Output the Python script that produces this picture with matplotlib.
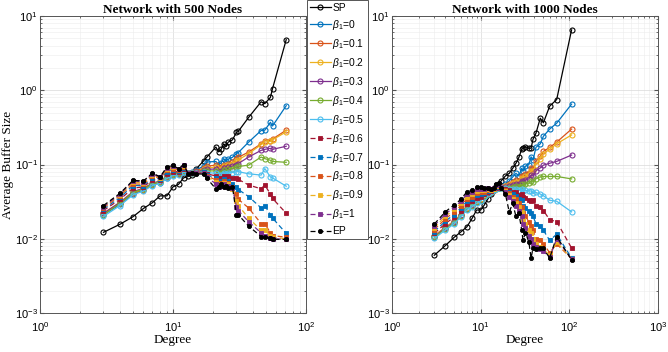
import numpy as np
import matplotlib
matplotlib.use('Agg')
import matplotlib.pyplot as plt

plt.rcParams['font.family'] = ['Liberation Sans', 'DejaVu Sans']
plt.rcParams['mathtext.fontset'] = 'custom'
plt.rcParams['mathtext.rm'] = 'Liberation Sans'
plt.rcParams['mathtext.it'] = 'Liberation Sans:italic'
plt.rcParams['axes.unicode_minus'] = False

# ---- network with 500 nodes ----
L_deg = [3, 4, 5, 6, 7, 8, 9, 10, 11, 12, 13, 14, 15, 17, 18, 21, 22, 23, 24, 25,
         26, 28, 30, 31, 37, 46, 49, 54, 56, 71]
L_sp = [0.0122, 0.0157, 0.0198, 0.0256, 0.0306, 0.0378, 0.0378, 0.050, 0.054, 0.066,
        0.069, 0.072, 0.088, 0.112, 0.126, 0.172, 0.148, 0.160, 0.190, 0.175,
        0.200, 0.215, 0.270, 0.280, 0.430, 0.700, 0.660, 0.800, 1.050, 4.800]
L_b00 = [0.021, 0.029, 0.040, 0.045, 0.053, 0.057, 0.066, 0.072, 0.074, 0.080,
         0.077, 0.079, 0.085, 0.095, 0.108, 0.110, 0.100, 0.105, 0.120, 0.112,
         0.118, 0.125, 0.140, 0.145, 0.200, 0.287, 0.290, 0.370, 0.330, 0.620]
L_b01 = [0.022, 0.030, 0.041, 0.046, 0.054, 0.058, 0.068, 0.074, 0.075, 0.081,
         0.077, 0.078, 0.082, 0.090, 0.095, 0.098, 0.090, 0.092, 0.100, 0.095,
         0.102, 0.108, 0.118, 0.125, 0.147, 0.190, 0.210, 0.210, 0.220, 0.290]
L_b02 = [0.022, 0.031, 0.042, 0.047, 0.055, 0.059, 0.069, 0.075, 0.076, 0.082,
         0.077, 0.078, 0.080, 0.088, 0.090, 0.092, 0.085, 0.088, 0.095, 0.090,
         0.098, 0.103, 0.110, 0.115, 0.140, 0.185, 0.200, 0.205, 0.215, 0.275]
L_b03 = [0.022, 0.031, 0.043, 0.048, 0.056, 0.060, 0.070, 0.076, 0.077, 0.083,
         0.077, 0.078, 0.079, 0.085, 0.086, 0.087, 0.080, 0.083, 0.090, 0.085,
         0.092, 0.095, 0.100, 0.103, 0.126, 0.155, 0.160, 0.165, 0.160, 0.176]
L_b04 = [0.021, 0.030, 0.042, 0.047, 0.055, 0.059, 0.069, 0.075, 0.077, 0.082,
         0.077, 0.077, 0.078, 0.082, 0.082, 0.082, 0.076, 0.078, 0.085, 0.080,
         0.086, 0.088, 0.092, 0.094, 0.098, 0.126, 0.120, 0.114, 0.110, 0.107]
L_b05 = [0.020, 0.028, 0.039, 0.044, 0.052, 0.056, 0.065, 0.071, 0.073, 0.079,
         0.076, 0.077, 0.077, 0.080, 0.078, 0.076, 0.072, 0.072, 0.078, 0.074,
         0.078, 0.078, 0.080, 0.080, 0.075, 0.072, 0.088, 0.068, 0.066, 0.051]
L_b06 = [0.024, 0.034, 0.048, 0.050, 0.062, 0.062, 0.075, 0.080, 0.080, 0.087,
         0.078, 0.078, 0.078, 0.080, 0.075, 0.070, 0.066, 0.065, 0.070, 0.066,
         0.070, 0.066, 0.066, 0.063, 0.053, 0.047, 0.053, 0.040, 0.035, 0.022]
L_b07 = [0.025, 0.036, 0.052, 0.052, 0.066, 0.064, 0.080, 0.084, 0.082, 0.090,
         0.078, 0.078, 0.077, 0.079, 0.072, 0.066, 0.060, 0.060, 0.064, 0.058,
         0.060, 0.055, 0.050, 0.046, 0.037, 0.026, 0.028, 0.021, 0.019, 0.0118]
L_b08 = [0.026, 0.038, 0.055, 0.054, 0.070, 0.065, 0.085, 0.088, 0.084, 0.093,
         0.077, 0.078, 0.077, 0.078, 0.070, 0.062, 0.056, 0.057, 0.060, 0.055,
         0.056, 0.050, 0.040, 0.034, 0.026, 0.016, 0.016, 0.012, 0.011, 0.0105]
L_b09 = [0.027, 0.039, 0.058, 0.056, 0.073, 0.066, 0.088, 0.092, 0.086, 0.096,
         0.076, 0.078, 0.076, 0.078, 0.068, 0.058, 0.052, 0.054, 0.057, 0.052,
         0.054, 0.047, 0.032, 0.028, 0.019, 0.013, 0.013, 0.011, 0.0105, 0.0100]
L_b10 = [0.027, 0.040, 0.060, 0.058, 0.075, 0.067, 0.091, 0.095, 0.087, 0.098,
         0.076, 0.077, 0.076, 0.077, 0.067, 0.055, 0.050, 0.052, 0.055, 0.050,
         0.052, 0.048, 0.027, 0.024, 0.017, 0.012, 0.011, 0.0102, 0.0100, 0.0098]
L_ep = [0.028, 0.041, 0.061, 0.060, 0.077, 0.068, 0.093, 0.097, 0.088, 0.100,
        0.075, 0.077, 0.075, 0.074, 0.065, 0.047, 0.050, 0.055, 0.050, 0.052,
        0.048, 0.050, 0.021, 0.021, 0.0148, 0.0107, 0.0105, 0.0101, 0.0098, 0.0098]

# ---- network with 1000 nodes ----
R_deg = [3, 4, 5, 6, 7, 8, 9, 10, 11, 12, 13, 14, 15, 16, 17,
         19, 21, 23, 25, 27, 29, 30, 32, 35, 37, 39, 42, 47, 51, 60, 72, 106]
R_sp = [0.0060, 0.0081, 0.0104, 0.0124, 0.0145, 0.0188, 0.0244, 0.0244, 0.0285, 0.034,
        0.040, 0.045, 0.052, 0.055, 0.060,
        0.070, 0.076, 0.089, 0.104, 0.125, 0.160, 0.165, 0.174, 0.165, 0.166,
        0.220, 0.263, 0.420, 0.365, 0.610, 0.750, 6.50]
R_b00 = [0.0108, 0.0140, 0.0168, 0.0208, 0.0255, 0.0285, 0.0315, 0.0335, 0.0380, 0.0410,
         0.0430, 0.0460, 0.0480, 0.0490, 0.0500,
         0.055, 0.060, 0.068, 0.076, 0.070, 0.089, 0.082, 0.095, 0.100, 0.127,
         0.115, 0.170, 0.190, 0.240, 0.300, 0.360, 0.650]
R_b01 = [0.0110, 0.0143, 0.0172, 0.0212, 0.0260, 0.0290, 0.0320, 0.0340, 0.0385, 0.0415,
         0.0432, 0.0462, 0.0482, 0.0490, 0.0498,
         0.052, 0.055, 0.058, 0.062, 0.060, 0.070, 0.068, 0.075, 0.078, 0.090,
         0.088, 0.110, 0.130, 0.150, 0.170, 0.200, 0.300]
R_b02 = [0.0109, 0.0141, 0.0170, 0.0210, 0.0257, 0.0288, 0.0318, 0.0338, 0.0383, 0.0412,
         0.0431, 0.0460, 0.0480, 0.0489, 0.0495,
         0.051, 0.053, 0.056, 0.059, 0.058, 0.066, 0.064, 0.070, 0.072, 0.083,
         0.082, 0.100, 0.120, 0.140, 0.160, 0.190, 0.250]
R_b03 = [0.0107, 0.0139, 0.0167, 0.0207, 0.0254, 0.0284, 0.0313, 0.0333, 0.0378, 0.0408,
         0.0428, 0.0458, 0.0478, 0.0487, 0.0492,
         0.050, 0.051, 0.053, 0.055, 0.054, 0.060, 0.058, 0.062, 0.064, 0.072,
         0.070, 0.082, 0.090, 0.098, 0.104, 0.110, 0.134]
R_b04 = [0.0105, 0.0136, 0.0164, 0.0204, 0.0250, 0.0280, 0.0308, 0.0328, 0.0374, 0.0405,
         0.0425, 0.0455, 0.0475, 0.0485, 0.0490,
         0.049, 0.049, 0.050, 0.051, 0.050, 0.054, 0.052, 0.055, 0.056, 0.060,
         0.058, 0.064, 0.068, 0.069, 0.069, 0.069, 0.064]
R_b05 = [0.0101, 0.0131, 0.0158, 0.0198, 0.0244, 0.0270, 0.0300, 0.0320, 0.0368, 0.0400,
         0.0420, 0.0450, 0.0470, 0.0480, 0.0480,
         0.048, 0.047, 0.047, 0.047, 0.045, 0.047, 0.044, 0.045, 0.044, 0.044,
         0.041, 0.042, 0.040, 0.038, 0.033, 0.032, 0.023]
R_b06 = [0.0118, 0.0160, 0.0195, 0.0240, 0.0295, 0.0320, 0.0355, 0.0370, 0.0400, 0.0430,
         0.0440, 0.0465, 0.0490, 0.0500, 0.0490,
         0.047, 0.045, 0.043, 0.042, 0.039, 0.040, 0.036, 0.035, 0.033, 0.032,
         0.033, 0.028, 0.027, 0.024, 0.018, 0.017, 0.0075]
R_b07 = [0.0125, 0.0172, 0.0212, 0.0260, 0.0320, 0.0345, 0.0385, 0.0395, 0.0415, 0.0445,
         0.0448, 0.0470, 0.0500, 0.0510, 0.0488,
         0.046, 0.043, 0.040, 0.038, 0.034, 0.033, 0.028, 0.026, 0.024, 0.022,
         0.020, 0.016, 0.015, 0.013, 0.0095, 0.0115, 0.0055]
R_b08 = [0.0133, 0.0185, 0.0230, 0.0280, 0.0345, 0.0370, 0.0415, 0.0420, 0.0430, 0.0458,
         0.0455, 0.0472, 0.0510, 0.0520, 0.0485,
         0.045, 0.041, 0.037, 0.034, 0.030, 0.027, 0.022, 0.020, 0.017, 0.015,
         0.013, 0.010, 0.0095, 0.0085, 0.0065, 0.0085, 0.0054]
R_b09 = [0.0140, 0.0200, 0.0248, 0.0300, 0.0370, 0.0395, 0.0445, 0.0450, 0.0448, 0.0470,
         0.0460, 0.0475, 0.0520, 0.0530, 0.0482,
         0.044, 0.039, 0.034, 0.030, 0.027, 0.023, 0.018, 0.016, 0.013, 0.012,
         0.010, 0.0085, 0.0078, 0.0072, 0.0060, 0.0090, 0.0054]
R_b10 = [0.0150, 0.0215, 0.0265, 0.0320, 0.0400, 0.0420, 0.0470, 0.0475, 0.0465, 0.0480,
         0.0465, 0.0478, 0.0530, 0.0540, 0.0480,
         0.043, 0.037, 0.032, 0.028, 0.024, 0.020, 0.016, 0.014, 0.011, 0.010,
         0.0085, 0.0078, 0.0072, 0.0068, 0.0056, 0.0100, 0.0053]
R_ep = [0.0158, 0.0231, 0.0285, 0.0340, 0.0430, 0.0450, 0.0500, 0.0500, 0.0480, 0.0490,
        0.0470, 0.0480, 0.0550, 0.0560, 0.0480,
        0.040, 0.023, 0.030, 0.020, 0.022, 0.0131, 0.0096, 0.012, 0.009, 0.0055,
        0.0075, 0.0072, 0.0075, 0.0074, 0.0055, 0.0107, 0.0052]

beta_labels = ['0', '0.1', '0.2', '0.3', '0.4', '0.5', '0.6', '0.7', '0.8', '0.9', '1']
beta_colors = ['#0072BD', '#D95319', '#EDB120', '#7E2F8E', '#77AC30', '#4DBEEE',
               '#A2142F', '#0072BD', '#D95319', '#EDB120', '#7E2F8E']

L_betas = [L_b00, L_b01, L_b02, L_b03, L_b04, L_b05, L_b06, L_b07, L_b08, L_b09, L_b10]
R_betas = [R_b00, R_b01, R_b02, R_b03, R_b04, R_b05, R_b06, R_b07, R_b08, R_b09, R_b10]


def draw(ax, deg, sp, betas, ep, xmax):
    lines = []
    h, = ax.plot(deg, sp, '-o', color='k', mfc='none', ms=3.6, mew=0.8, lw=0.9)
    lines.append(h)
    for i, vals in enumerate(betas):
        if i < 6:
            h, = ax.plot(deg, vals, '-o', color=beta_colors[i], mfc='none',
                         ms=3.6, mew=0.8, lw=0.9)
        else:
            h, = ax.plot(deg, vals, '--s', color=beta_colors[i], ms=3.0,
                         mew=0.6, lw=0.9, dashes=(4, 2.5))
        lines.append(h)
    h, = ax.plot(deg, ep, '--o', color='k', ms=3.0, mew=0.6, lw=0.9, dashes=(4, 2.5))
    lines.append(h)

    ax.set_xscale('log')
    ax.set_yscale('log')
    ax.set_xlim(1, xmax)
    ax.set_ylim(1e-3, 10)
    ax.grid(True, which='major', color='#d9d9d9', lw=0.5)
    ax.grid(True, which='minor', color='#ececec', lw=0.4)
    ax.tick_params(which='both', direction='in', top=True, right=True,
                   color='#555555', labelsize=8)
    ax.tick_params(axis='x', pad=5)
    ax.tick_params(axis='y', pad=1.5)
    ax.tick_params(which='major', length=3)
    ax.tick_params(which='minor', length=1.5)
    for s in ax.spines.values():
        s.set_color('#555555')
        s.set_linewidth(0.7)
    ax.set_xlabel('Degree', family='Liberation Serif', fontsize=9.5, labelpad=0)
    return lines


fig = plt.figure(figsize=(6.68, 3.52), dpi=100)
ax1 = fig.add_axes([40 / 668, 39 / 352, 266 / 668, 297 / 352])
ax2 = fig.add_axes([392 / 668, 39 / 352, 266 / 668, 297 / 352])

handles = draw(ax1, L_deg, L_sp, L_betas, L_ep, 100)
draw(ax2, R_deg, R_sp, R_betas, R_ep, 1000)

ax1.set_title('Network with 500 Nodes', family='Liberation Serif',
              fontweight='bold', fontsize=9.5, pad=2)
ax2.set_title('Network with 1000 Nodes', family='Liberation Serif',
              fontweight='bold', fontsize=9.5, pad=2)
ax1.set_ylabel('Average Buffer Size', family='Liberation Serif', fontsize=9.5)
ax1.yaxis.set_label_coords(-0.098, 0.5)

labels = ['SP'] + [r'$\beta_1$=' + b for b in beta_labels] + ['EP']
leg = fig.legend(handles, labels, loc='upper left', bbox_to_anchor=(307 / 668, 1.0),
                 fontsize=7.4, frameon=True, fancybox=False, framealpha=1,
                 edgecolor='#555555', handlelength=2.0, handletextpad=0.15,
                 labelspacing=0.48, borderpad=0.3, borderaxespad=0)
leg.get_frame().set_linewidth(0.7)

fig.savefig('out.png', dpi=100)
